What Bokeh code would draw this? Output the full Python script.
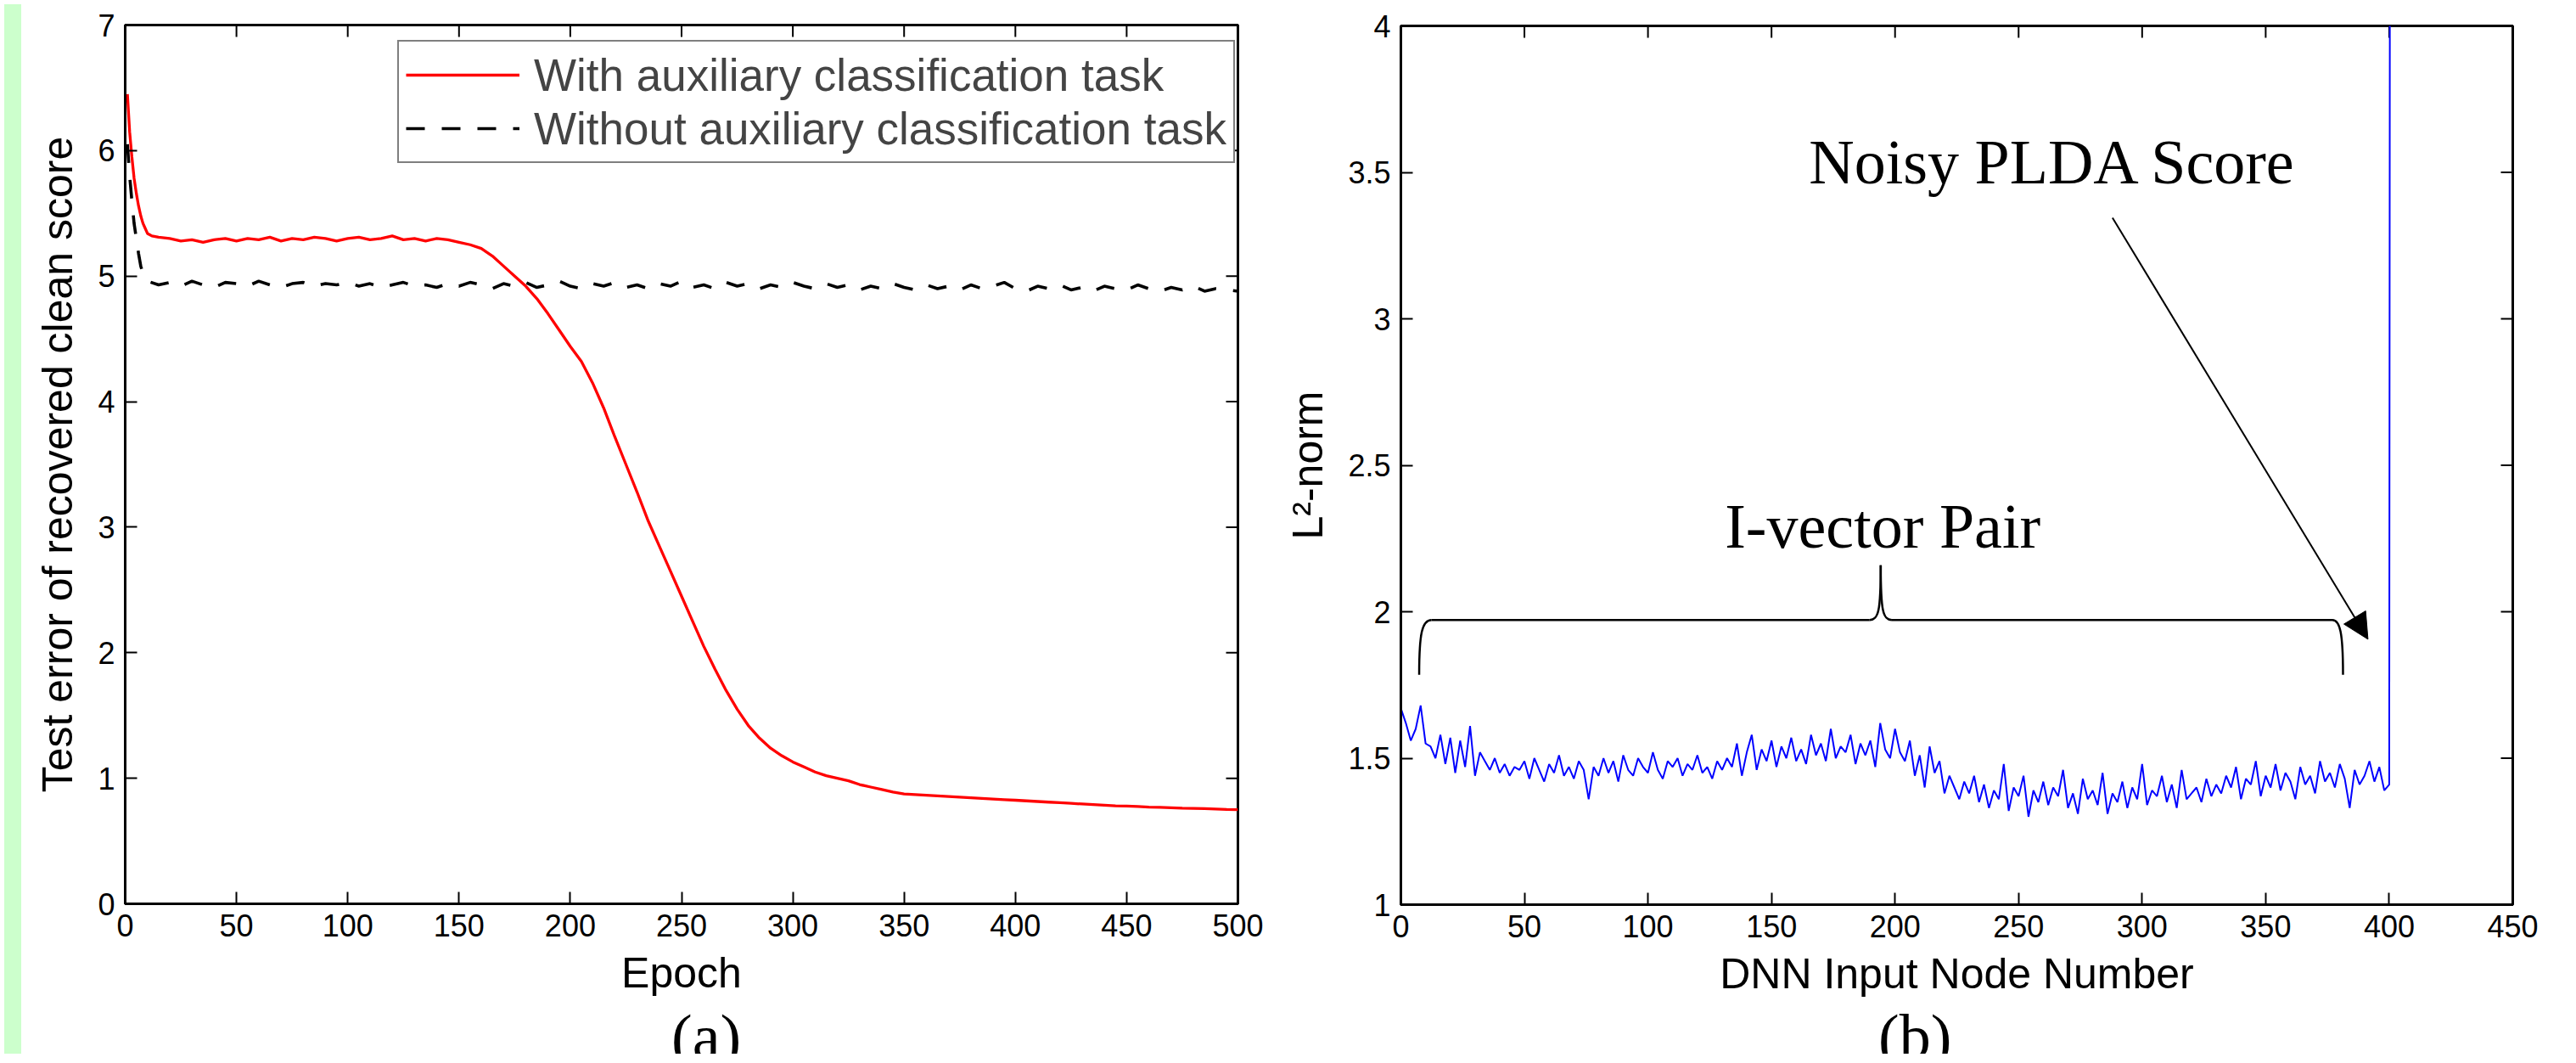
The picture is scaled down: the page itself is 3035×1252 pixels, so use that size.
import math
from bokeh.plotting import figure
from bokeh.models import (Range1d, FixedTicker, Legend, LegendItem,
                          Label, Arrow, NormalHead, Div)
from bokeh.layouts import row, column
from bokeh.embed import file_html
from bokeh.resources import INLINE

SANS = "Liberation Sans"
SERIF = "Liberation Serif"

# ---------------- data: panel (a) ----------------
series_names = ["With auxiliary classification task", "Without auxiliary classification task"]
xlabel_a = "Epoch"
ylabel_a = "Test error of recovered clean score"
xticks_a = [0, 50, 100, 150, 200, 250, 300, 350, 400, 450, 500]
yticks_a = [0, 1, 2, 3, 4, 5, 6, 7]

epochs_with = [1, 2, 3, 4, 5, 6, 7, 8, 9, 10, 12,
               15, 20, 25, 30, 35, 40, 45, 50, 55, 60, 65, 70, 75, 80, 85, 90, 95, 100,
               105, 110, 115, 120, 125, 130, 135, 140, 145, 150, 155, 160, 165, 170, 175, 180,
               185, 190, 195, 200, 205, 210, 215, 220, 225, 230, 235, 240, 245, 250, 255, 260,
               265, 270, 275, 280, 285, 290, 295, 300, 305, 310, 315, 320, 325, 330, 335, 340,
               345, 350, 355, 360, 365, 370, 375, 380, 385, 390, 395, 400, 405, 410, 415, 420,
               425, 430, 435, 440, 445, 450, 455, 460, 465, 470, 475, 480, 485, 490, 495, 500]
err_with = [6.45, 6.15, 5.95, 5.78, 5.66, 5.56, 5.48, 5.42, 5.38, 5.34, 5.32,
            5.31, 5.30, 5.28, 5.29, 5.27, 5.29, 5.30, 5.28, 5.30, 5.29, 5.31, 5.28, 5.30, 5.29,
            5.31, 5.30, 5.28, 5.30, 5.31, 5.29, 5.30, 5.32, 5.29, 5.30, 5.28, 5.30, 5.29, 5.27,
            5.25, 5.22, 5.16, 5.08, 5.00, 4.92, 4.82, 4.70, 4.57, 4.44, 4.32, 4.15, 3.95, 3.72,
            3.50, 3.28, 3.05, 2.85, 2.65, 2.45, 2.25, 2.05, 1.87, 1.70, 1.55, 1.42, 1.32, 1.24,
            1.18, 1.13, 1.09, 1.05, 1.02, 1.00, 0.98, 0.95, 0.93, 0.91, 0.89, 0.875, 0.87, 0.865,
            0.86, 0.855, 0.85, 0.845, 0.84, 0.835, 0.83, 0.825, 0.82, 0.815, 0.81, 0.805, 0.80,
            0.795, 0.79, 0.785, 0.78, 0.778, 0.775, 0.77, 0.768, 0.765, 0.762, 0.76, 0.758,
            0.755, 0.752, 0.75]

epochs_without = [1, 2, 3, 4, 5, 6, 7, 8, 9,
                  10, 15, 20, 25, 30, 35, 40, 45, 50, 55, 60, 65, 70, 75, 80, 85, 90, 95, 100,
                  105, 110, 115, 120, 125, 130, 135, 140, 145, 150, 155, 160, 165, 170, 175, 180,
                  185, 190, 195, 200, 205, 210, 215, 220, 225, 230, 235, 240, 245, 250, 255, 260,
                  265, 270, 275, 280, 285, 290, 295, 300, 305, 310, 315, 320, 325, 330, 335, 340,
                  345, 350, 355, 360, 365, 370, 375, 380, 385, 390, 395, 400, 405, 410, 415, 420,
                  425, 430, 435, 440, 445, 450, 455, 460, 465, 470, 475, 480, 485, 490, 495, 500]
err_without = [6.05, 5.80, 5.60, 5.42, 5.30, 5.18, 5.08, 5.02, 4.98,
               4.96, 4.93, 4.95, 4.92, 4.96, 4.93, 4.91, 4.95, 4.94, 4.92, 4.96, 4.93, 4.91, 4.94,
               4.95, 4.92, 4.94, 4.93, 4.95, 4.92, 4.94, 4.91, 4.93, 4.95, 4.92, 4.93, 4.91, 4.94,
               4.92, 4.95, 4.93, 4.90, 4.94, 4.92, 4.95, 4.91, 4.93, 4.96, 4.92, 4.90, 4.94, 4.92,
               4.95, 4.91, 4.93, 4.90, 4.94, 4.92, 4.96, 4.91, 4.93, 4.90, 4.95, 4.92, 4.94, 4.90,
               4.93, 4.91, 4.95, 4.92, 4.90, 4.94, 4.91, 4.93, 4.89, 4.92, 4.90, 4.94, 4.91, 4.89,
               4.93, 4.90, 4.92, 4.89, 4.93, 4.90, 4.92, 4.95, 4.90, 4.88, 4.92, 4.90, 4.93, 4.89,
               4.91, 4.88, 4.92, 4.90, 4.89, 4.93, 4.90, 4.88, 4.91, 4.89, 4.92, 4.88, 4.90, 4.89,
               4.88]

# ---------------- data: panel (b) ----------------
xlabel_b = "DNN Input Node Number"
ylabel_b = "L\u00b2-norm"
xticks_b = [0, 50, 100, 150, 200, 250, 300, 350, 400, 450]
yticks_b = [1, 1.5, 2, 2.5, 3, 3.5, 4]
ytick_labels_b = ["1", "1.5", "2", "2.5", "3", "3.5", "4"]

l2_seg_a = [1.67, 1.62, 1.56, 1.60, 1.68, 1.55, 1.54, 1.50, 1.58, 1.48, 1.57, 1.45, 1.56, 1.47, 1.61, 1.44]
l2_seg_b = [1.52, 1.49, 1.46, 1.50, 1.45, 1.48, 1.44, 1.47, 1.46, 1.49,
            1.43, 1.50, 1.46, 1.42, 1.48, 1.45, 1.51, 1.44, 1.47, 1.43,
            1.49, 1.46, 1.36, 1.47, 1.44, 1.50, 1.45, 1.49, 1.42, 1.51,
            1.46, 1.44, 1.50, 1.47, 1.45, 1.52, 1.46, 1.43, 1.49, 1.47,
            1.50, 1.44, 1.48, 1.46, 1.51, 1.45, 1.47, 1.43, 1.49, 1.46]
l2_seg_c = [1.50, 1.47, 1.55, 1.44, 1.52, 1.58, 1.46, 1.53, 1.49, 1.56,
            1.47, 1.54, 1.50, 1.57, 1.49, 1.53, 1.48, 1.58, 1.51, 1.55,
            1.49, 1.60, 1.50, 1.54, 1.52, 1.58, 1.48, 1.55, 1.51, 1.56,
            1.47, 1.62, 1.53, 1.50, 1.60]
l2_seg_d = [1.52, 1.49, 1.56, 1.44, 1.51, 1.40, 1.54, 1.45, 1.49, 1.38, 1.44, 1.40, 1.36, 1.42, 1.38]
l2_seg_e = [1.44, 1.35, 1.41, 1.33, 1.39, 1.36, 1.48, 1.32, 1.40, 1.37,
            1.44, 1.30, 1.39, 1.35, 1.42, 1.34, 1.40, 1.37, 1.46, 1.33,
            1.38, 1.31, 1.43, 1.36, 1.39, 1.34, 1.45, 1.31, 1.38, 1.35,
            1.42, 1.33, 1.40, 1.36, 1.48, 1.34, 1.39, 1.37, 1.44, 1.35,
            1.41, 1.33, 1.46, 1.36, 1.38, 1.40, 1.35, 1.43, 1.37, 1.41]
l2_seg_f = [1.38, 1.44, 1.40, 1.47, 1.36, 1.43, 1.41, 1.49, 1.37, 1.44,
            1.40, 1.48, 1.39, 1.45, 1.42, 1.36, 1.47, 1.41, 1.44, 1.38,
            1.49, 1.42, 1.45, 1.40, 1.48, 1.43, 1.33, 1.46, 1.41, 1.44,
            1.49, 1.42, 1.47, 1.39, 1.41]
score_node = 401
score_value = 12.0   # noisy PLDA score, far above the axis limit

ivector_vals = l2_seg_a + l2_seg_b + l2_seg_c + l2_seg_d + l2_seg_e + l2_seg_f
ivector_nodes = list(range(0, 2 * len(ivector_vals), 2))
nodes_b = ivector_nodes + [score_node]
l2norm_b = ivector_vals + [score_value]

# annotation anchors (data units of panel b)
noisy_text = "Noisy PLDA Score"
noisy_pos = (264, 3.535)
pair_text = "I-vector Pair"
pair_pos = (195, 2.29)
arrow_start = (288, 3.345)
arrow_end = (391.4, 1.906)
brace_left, brace_right, brace_mid = 7.4, 381.3, 194.2
brace_y, brace_bottom, brace_tip = 1.972, 1.785, 2.159

caption_a = "(a)"
caption_b = "(b)"

TOTAL_H = 1236


def style_axis(ax):
    ax.axis_line_width = 3
    ax.axis_line_color = "black"
    ax.major_tick_in = 14
    ax.major_tick_out = 0
    ax.major_tick_line_width = 2
    ax.major_tick_line_color = "black"
    ax.minor_tick_line_color = None
    ax.major_label_text_font = SANS
    ax.major_label_text_color = "black"
    ax.major_label_text_font_size = "36px"
    ax.axis_label_text_font = SANS
    ax.axis_label_text_font_size = "50px"
    ax.axis_label_text_font_style = "normal"
    ax.axis_label_text_color = "black"


def make_fig(width, height, xr, yr, xt, yt, mbl, mbr, mbt, mbb, xlab, ylab, ylab_over=None):
    p = figure(width=width, height=height, x_range=Range1d(*xr), y_range=Range1d(*yr),
               output_backend="svg", toolbar_location=None,
               min_border_left=mbl, min_border_right=mbr, min_border_top=mbt,
               min_border_bottom=mbb)
    p.background_fill_color = "white"
    p.border_fill_color = "white"
    p.outline_line_color = "black"
    p.outline_line_width = 3
    p.xgrid.visible = False
    p.ygrid.visible = False
    p.xaxis.ticker = FixedTicker(ticks=xt)
    p.yaxis.ticker = FixedTicker(ticks=yt)
    p.xaxis.axis_label = xlab
    p.yaxis.axis_label = ylab
    style_axis(p.xaxis[0])
    style_axis(p.yaxis[0])
    p.xaxis.major_label_standoff = 12
    p.xaxis.axis_label_standoff = 12
    p.yaxis.major_label_standoff = 12
    p.yaxis.axis_label_standoff = 16
    if ylab_over:
        p.yaxis.major_label_overrides = ylab_over
    # mirrored inward ticks on the top and right edges (outer half clipped by the frame)
    p.scatter(x=xt, y=[yr[1]] * len(xt), marker="dash", size=28, angle=math.pi / 2,
              line_color="black", line_width=2)
    p.scatter(x=[xr[1]] * len(yt), y=yt, marker="dash", size=28,
              line_color="black", line_width=2)
    return p


def caption_div(text, width, height, indent):
    return Div(text=text, width=width, height=height,
               styles={"font-family": SERIF, "font-size": "74px", "line-height": "60px",
                       "color": "black", "text-align": "left", "text-indent": f"{indent}px",
                       "overflow": "hidden", "white-space": "nowrap"})


FIG_H = 1186

# ---------------- panel (a) ----------------
pa = make_fig(1467, FIG_H, (0, 500), (0, 7), xticks_a, yticks_a, 117, 39, 29, 122,
              xlabel_a, ylabel_a)
r_with = pa.line(epochs_with, err_with, line_color="#ff0000", line_width=3.3)
r_without = pa.line(epochs_without, err_without, line_color="black", line_width=3.6,
                    line_dash="22 20")
legend = Legend(items=[LegendItem(label=series_names[0], renderers=[r_with]),
                       LegendItem(label=series_names[1], renderers=[r_without])],
                location=(321, 872), orientation="vertical",
                label_text_font=SANS, label_text_font_size="53px",
                label_height=62, glyph_height=62, glyph_width=134, label_standoff=17,
                padding=8, spacing=1, margin=0,
                border_line_color="black", border_line_width=2.5,
                background_fill_color="white", background_fill_alpha=1.0)
pa.add_layout(legend)

# ---------------- panel (b) ----------------
pb = make_fig(1532, FIG_H, (0, 450), (1, 4), xticks_b, yticks_b, 143, 79, 30, 121,
              xlabel_b, ylabel_b,
              ylab_over={t: s for t, s in zip(yticks_b, ytick_labels_b)})
pb.line(nodes_b, l2norm_b, line_color="#0000ff", line_width=2)

pb.add_layout(Label(x=noisy_pos[0], y=noisy_pos[1], text=noisy_text, text_font=SERIF,
                    text_font_size="74px", text_align="center", text_baseline="alphabetic",
                    text_color="black"))
pb.add_layout(Label(x=pair_pos[0], y=pair_pos[1], text=pair_text, text_font=SERIF,
                    text_font_size="74px", text_align="center", text_baseline="alphabetic",
                    text_color="black"))
pb.add_layout(Arrow(end=NormalHead(size=30, fill_color="black", line_color="black"),
                    x_start=arrow_start[0], y_start=arrow_start[1],
                    x_end=arrow_end[0], y_end=arrow_end[1],
                    line_color="black", line_width=2))

# curly brace built from its anchors
bl0, bl1 = brace_left, brace_left + 5.0
br0, br1 = brace_right - 4.3, brace_right
bm0, bm1 = brace_mid - 4.5, brace_mid + 4.5
pb.segment(x0=[bl1, bm1], y0=[brace_y, brace_y], x1=[bm0, br0], y1=[brace_y, brace_y],
           line_color="black", line_width=2.5)
pb.bezier(x0=[bl0, bm0, brace_mid, br0],
          y0=[brace_bottom, brace_y, brace_tip, brace_y],
          x1=[bl1, brace_mid, bm1, br1],
          y1=[brace_y, brace_tip, brace_y, brace_bottom],
          cx0=[bl0, bm0 + 3.6, brace_mid, br0 + 3.1],
          cy0=[brace_y - 0.045, brace_y, brace_y + 0.03, brace_y],
          cx1=[bl0 + 1.2, brace_mid, bm1 - 3.6, br1],
          cy1=[brace_y, brace_y + 0.03, brace_y, brace_y - 0.045],
          line_color="black", line_width=2.5)

cap_a = caption_div(caption_a, 1467, TOTAL_H - FIG_H, 756)
cap_b = caption_div(caption_b, 1532, TOTAL_H - FIG_H, 701)

strip = Div(width=20, height=TOTAL_H, styles={"background-color": "#ccffcc"})
layout = row(strip, column(pa, cap_a), column(pb, cap_b))

open("out.html", "w").write(file_html(layout, INLINE))
